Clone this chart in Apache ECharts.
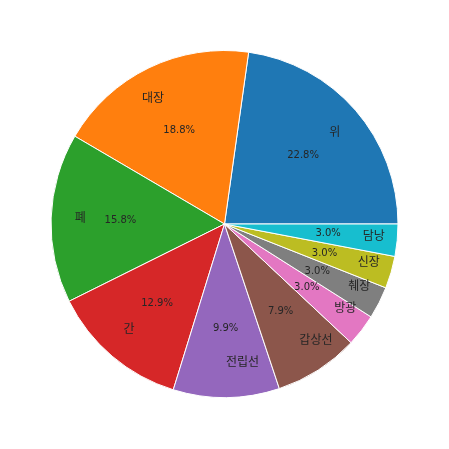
<!DOCTYPE html>
<html><head><meta charset="utf-8">
<script src="https://cdn.jsdelivr.net/npm/echarts@6/dist/echarts.min.js"></script>
<style>html,body{margin:0;padding:0;background:#fff}#c{width:449px;height:449px}</style>
</head><body><div id="c"></div>
<script>
const categories = ['위', '대장', '폐', '간', '전립선', '갑상선', '방광', '췌장', '신장', '담낭'];
const values = [22.8, 18.8, 15.8, 12.9, 9.9, 7.9, 3.0, 3.0, 3.0, 3.0];
const colors = ['#1f77b4', '#ff7f0e', '#2ca02c', '#d62728', '#9467bd', '#8c564b', '#e377c2', '#7f7f7f', '#bcbd22', '#17becf'];

const CX = 224.5, CY = 224, R = 173.5;
const FONT = '"DejaVu Sans", "Noto Sans CJK KR", sans-serif';
const LBL_SIZE = 12, PCT_SIZE = 10;
// ECharts pushes inside labels 3px outward; compensate
const PCT_MID = 0.6 * R - 3, LBL_MID = 0.8 * R - 3;

const cv = document.createElement('canvas').getContext('2d');
cv.font = LBL_SIZE + 'px ' + FONT;
const total = values.reduce((a, b) => a + b, 0);
let cum = 0;
const sides = values.map(v => {
  const mid = (cum + v / 2) / total * 2 * Math.PI;
  cum += v;
  return Math.cos(mid) >= 0 ? 1 : -1;
});

const baseData = categories.map((c, i) => ({ name: c, value: values[i], itemStyle: { color: colors[i] } }));
const pctData = categories.map((c, i) => ({ name: c, value: values[i] }));
const lblData = categories.map((c, i) => {
  const w = cv.measureText(c).width;
  return { name: c, value: values[i], label: { padding: sides[i] > 0 ? [0, 0, 0, w] : [0, w, 0, 0] } };
});

const common = {
  type: 'pie', center: [CX, CY], startAngle: 0, clockwise: false,
  avoidLabelOverlap: false, labelLine: { show: false }, emphasis: { disabled: true },
  animation: false
};

const chart = echarts.init(document.getElementById('c'), null, { renderer: 'canvas' });
chart.setOption({
  backgroundColor: '#ffffff',
  series: [
    Object.assign({}, common, {
      radius: [0, R], data: baseData,
      itemStyle: { borderColor: '#ffffff', borderWidth: 1 },
      label: { show: false }
    }),
    Object.assign({}, common, {
      radius: [2 * PCT_MID - R, R], data: pctData, silent: true,
      itemStyle: { color: 'transparent', borderWidth: 0 },
      label: { show: true, position: 'inside', color: '#262626', fontSize: PCT_SIZE, fontFamily: FONT,
        formatter: p => p.value.toFixed(1) + '%' }
    }),
    Object.assign({}, common, {
      radius: [2 * LBL_MID - R, R], data: lblData, silent: true,
      itemStyle: { color: 'transparent', borderWidth: 0 },
      label: { show: true, position: 'inside', color: '#262626', fontSize: LBL_SIZE, fontFamily: FONT,
        formatter: '{b}' }
    })
  ]
});
</script></body></html>
